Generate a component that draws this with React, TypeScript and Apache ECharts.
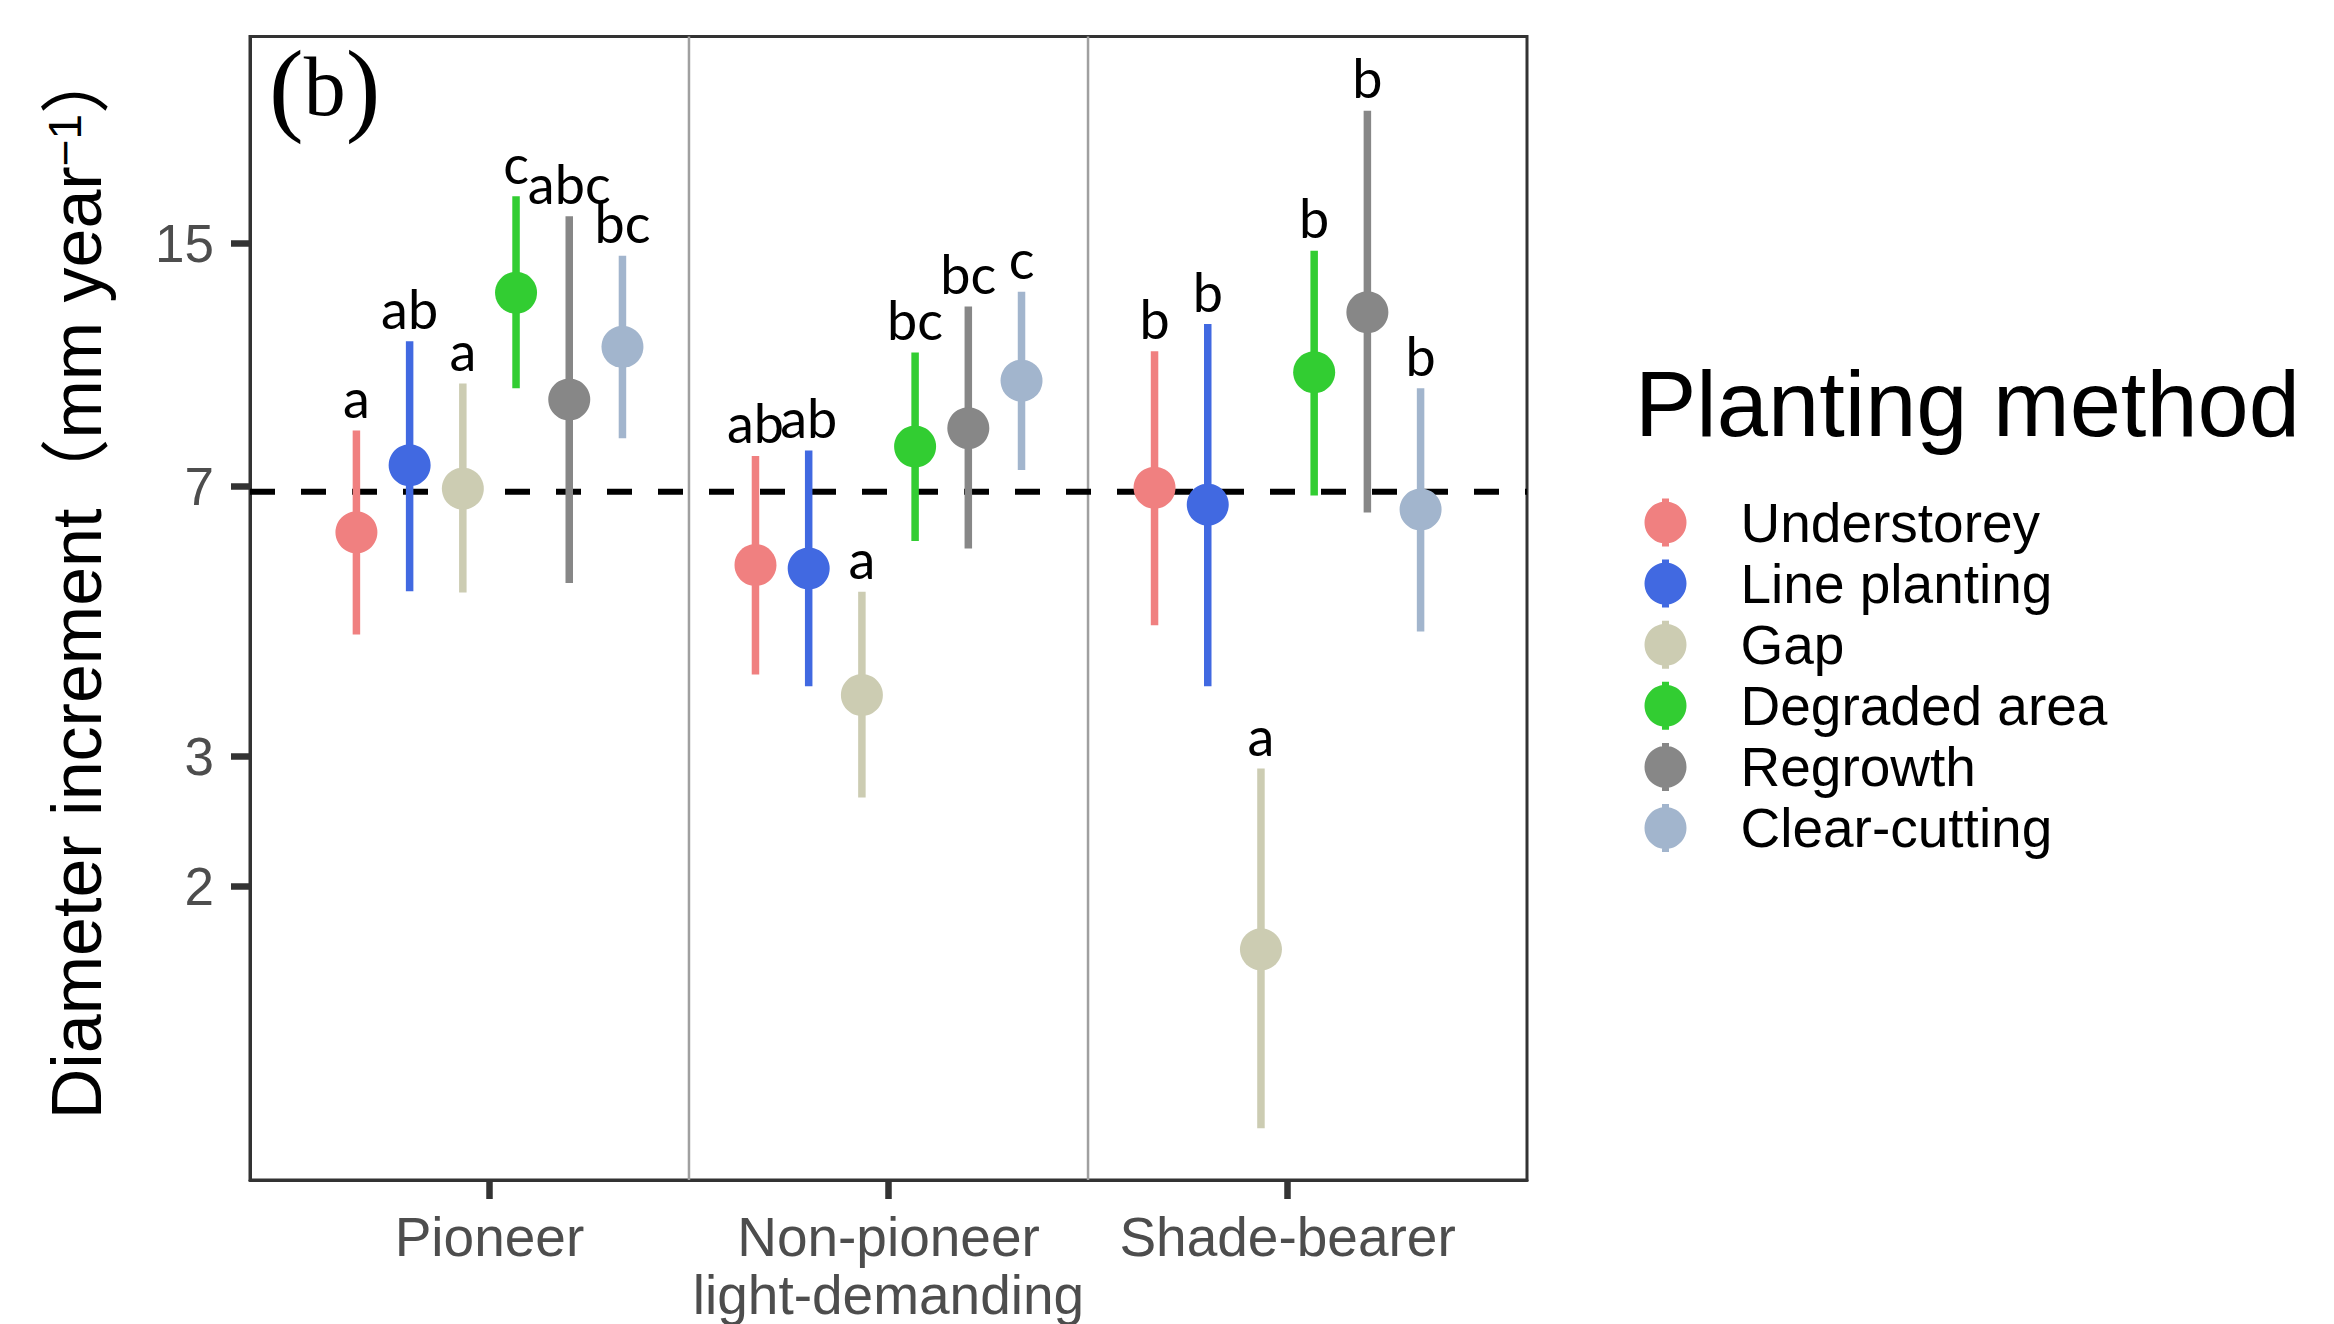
import React, { useEffect, useRef } from "react";
import * as echarts from "echarts";

// ---------- data ----------
const categories = ["Pioneer", "Non-pioneer\nlight-demanding", "Shade-bearer"];
const methods = ["Understorey", "Line planting", "Gap", "Degraded area", "Regrowth", "Clear-cutting"];
const yTicks = [2, 3, 7, 15];
const referenceValue = 6.88;
const separatorPositions = [1.5, 2.5];

const understoreyMean = [6.06, 5.47, 6.97];
const understoreyLower = [4.4, 3.88, 4.53];
const understoreyUpper = [8.34, 7.7, 10.69];
const understoreyLetters = ["a", "ab", "b"];

const linePlantingMean = [7.48, 5.41, 6.61];
const linePlantingLower = [5.04, 3.74, 3.74];
const linePlantingUpper = [11.03, 7.83, 11.64];
const linePlantingLetters = ["ab", "ab", "b"];

const gapMean = [6.95, 3.64, 1.64];
const gapLower = [5.02, 2.64, 0.936];
const gapUpper = [9.66, 5.03, 2.89];
const gapLetters = ["a", "a", "a"];

const degradedMean = [12.84, 7.93, 10.01];
const degradedLower = [9.52, 5.9, 6.8];
const degradedUpper = [17.38, 10.65, 14.65];
const degradedLetters = ["c", "bc", "b"];

const regrowthMean = [9.19, 8.4, 12.08];
const regrowthLower = [5.17, 5.76, 6.45];
const regrowthUpper = [16.32, 12.3, 22.71];
const regrowthLetters = ["abc", "bc", "b"];

const clearCuttingMean = [10.84, 9.75, 6.51];
const clearCuttingLower = [8.14, 7.37, 4.44];
const clearCuttingUpper = [14.42, 12.88, 9.52];
const clearCuttingLetters = ["bc", "c", "b"];

// ---------- styles ----------
const colors = ["#F08080", "#4169E1", "#CCCCB2", "#32CD32", "#878787", "#A2B5CD"];
const SANS = "Liberation Sans, Arial, sans-serif";

const methodData = [
  { mean: understoreyMean, lower: understoreyLower, upper: understoreyUpper, letters: understoreyLetters },
  { mean: linePlantingMean, lower: linePlantingLower, upper: linePlantingUpper, letters: linePlantingLetters },
  { mean: gapMean, lower: gapLower, upper: gapUpper, letters: gapLetters },
  { mean: degradedMean, lower: degradedLower, upper: degradedUpper, letters: degradedLetters },
  { mean: regrowthMean, lower: regrowthLower, upper: regrowthUpper, letters: regrowthLetters },
  { mean: clearCuttingMean, lower: clearCuttingLower, upper: clearCuttingUpper, letters: clearCuttingLetters },
];

const dodgeWidth = 0.8;

function buildOption(): any {
  const n = methods.length;
  const series: any[] = [];

  // background: separators and dashed reference line
  series.push({
    type: "custom",
    name: "__ref",
    z: 1,
    silent: true,
    encode: { x: 0, y: 1 },
    data: [[separatorPositions[0], referenceValue]],
    renderItem: (params: any, api: any) => {
      const cs = params.coordSys;
      const children: any[] = separatorPositions.map((s) => {
        const p = api.coord([s, referenceValue]);
        return {
          type: "line",
          shape: { x1: p[0], y1: cs.y, x2: p[0], y2: cs.y + cs.height },
          style: { stroke: "#A0A0A0", lineWidth: 2.5 },
        };
      });
      const r = api.coord([separatorPositions[0], referenceValue]);
      children.push({
        type: "line",
        shape: { x1: cs.x, y1: r[1], x2: cs.x + cs.width, y2: r[1] },
        style: { stroke: "#000", lineWidth: 6, lineDash: [25, 26], lineCap: "butt" },
      });
      return { type: "group", children };
    },
  });

  methods.forEach((name, s) => {
    const d = methodData[s];
    const offset = (s - (n - 1) / 2) * (dodgeWidth / n);
    const color = colors[s];
    series.push({
      type: "custom",
      name,
      z: 3,
      itemStyle: { color },
      encode: { x: 0, y: [1, 2, 3] },
      data: categories.map((_, ci) => [ci + 1 + offset, d.mean[ci], d.lower[ci], d.upper[ci]]),
      renderItem: (params: any, api: any) => {
        const x = api.value(0);
        const pm = api.coord([x, api.value(1)]);
        const plo = api.coord([x, api.value(2)]);
        const phi = api.coord([x, api.value(3)]);
        const letter = d.letters[params.dataIndex];
        return {
          type: "group",
          children: [
            {
              type: "line",
              shape: { x1: pm[0], y1: plo[1], x2: pm[0], y2: phi[1] },
              style: { stroke: color, lineWidth: 7.5, lineCap: "butt" },
            },
            {
              type: "circle",
              shape: { cx: pm[0], cy: pm[1], r: 21 },
              style: { fill: color },
            },
            {
              type: "text",
              x: phi[0],
              y: phi[1] - 6,
              style: {
                text: letter,
                fill: "#000",
                fontSize: 54,
                fontFamily: "Lato, sans-serif",
                align: "center",
                verticalAlign: "bottom",
              },
            },
          ],
        };
      },
    });
  });

  return {
    animation: false,
    backgroundColor: "#ffffff",
    textStyle: { fontFamily: SANS },
    grid: {
      left: 250,
      top: 36.5,
      width: 1277,
      height: 1144.2,
      show: true,
      borderColor: "#333333",
      borderWidth: 3,
      backgroundColor: "transparent",
      containLabel: false,
    },
    xAxis: {
      type: "value",
      min: 0.4,
      max: 3.6,
      splitLine: { show: false },
      axisLine: { show: true, onZero: false, lineStyle: { color: "#333333", width: 3 } },
      axisTick: {
        show: true,
        customValues: [1, 2, 3],
        length: 19,
        lineStyle: { color: "#333333", width: 6.5 },
      },
      axisLabel: {
        show: true,
        customValues: [1, 2, 3],
        formatter: (v: number) => categories[Math.round(v) - 1] ?? "",
        fontSize: 55,
        lineHeight: 58,
        color: "#4D4D4D",
        fontFamily: SANS,
        margin: 28,
      },
    },
    yAxis: {
      type: "log",
      logBase: 10,
      min: 0.796,
      max: 28.67,
      splitLine: { show: false },
      axisLine: { show: true, onZero: false, lineStyle: { color: "#333333", width: 3 } },
      axisTick: {
        show: true,
        customValues: yTicks,
        length: 19,
        lineStyle: { color: "#333333", width: 6.5 },
      },
      axisLabel: {
        show: true,
        customValues: yTicks,
        formatter: (v: number) => String(Math.round(v * 100) / 100),
        fontSize: 53,
        color: "#4D4D4D",
        fontFamily: SANS,
        margin: 36,
      },
    },
    legend: {
      orient: "vertical",
      left: 1644.5,
      top: 495,
      padding: 0,
      itemWidth: 42,
      itemHeight: 48,
      itemGap: 6.1,
      selectedMode: false,
      icon: "path://M17.5,0H24.5V48H17.5ZM21,3A21,21,0,1,1,20.99,3Z",
      data: methods,
      textStyle: {
        fontSize: 55,
        fontFamily: SANS,
        color: "#000",
        lineHeight: 48,
        padding: [0, 0, 0, 49],
      },
    },
    graphic: [
      {
        type: "text",
        x: 269,
        y: 86,
        silent: true,
        style: {
          text: "{p|(}{b|b}{p|)}",
          rich: {
            p: { fontSize: 104, fontFamily: "Liberation Serif, serif", fill: "#000" },
            b: { fontSize: 84, fontFamily: "Liberation Serif, serif", fill: "#000" },
          },
          align: "left",
          verticalAlign: "middle",
        },
      },
      {
        type: "text",
        x: 77,
        y: 581.6,
        rotation: Math.PI / 2,
        silent: true,
        style: {
          text: "{m|Diameter increment（mm year}{s|−1}{m|）}",
          rich: {
            m: {
              fontSize: 70,
              lineHeight: 70,
              fontFamily: "Liberation Sans, Noto Sans CJK SC, sans-serif",
              fill: "#000",
            },
            s: {
              fontSize: 46,
              lineHeight: 16,
              verticalAlign: "top",
              fontFamily: "Liberation Sans, sans-serif",
              fill: "#000",
            },
          },
          align: "center",
          verticalAlign: "middle",
        },
      },
      {
        type: "text",
        x: 1635,
        y: 404,
        silent: true,
        style: {
          text: "Planting method",
          fontSize: 92,
          fontFamily: SANS,
          fill: "#000",
          align: "left",
          verticalAlign: "middle",
        },
      },
    ],
    series,
  };
}

export default function App() {
  const ref = useRef<HTMLDivElement | null>(null);
  useEffect(() => {
    if (!ref.current) return;
    const chart = echarts.init(ref.current, undefined, { renderer: "svg" });
    chart.setOption(buildOption());
    return () => {
      chart.dispose();
    };
  }, []);
  return (
    <div
      ref={ref}
      style={{ position: "absolute", left: 0, top: 0, width: 2334, height: 1324, background: "#fff" }}
    />
  );
}
